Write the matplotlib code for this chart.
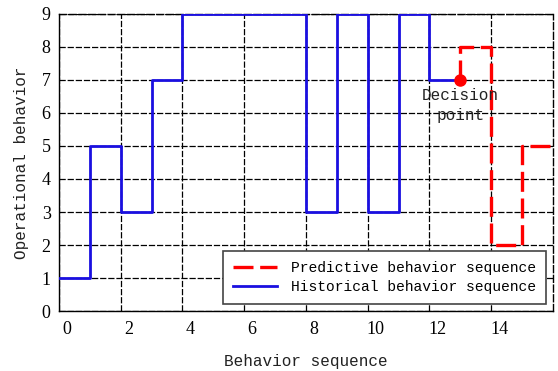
import numpy as np
import matplotlib.pyplot as plt
import matplotlib.transforms as mtransforms

# historical behaviour (step, post)
hist_x = [0, 1, 2, 3, 4, 8, 9, 10, 11, 12, 13]
hist_y = [1, 5, 3, 7, 9, 3, 9, 3, 9, 7, 7]
# predicted behaviour after the decision point
pred_x = [13, 13, 14, 15, 16]
pred_y = [7, 8, 2, 5, 5]
decision = (13, 7)

xticks = [0, 2, 4, 6, 8, 10, 12, 14]
yticks = list(range(10))

mono = 'Liberation Mono'
serif = 'Liberation Serif'

fig = plt.figure(figsize=(5.58, 3.71), dpi=100)
ax = fig.add_axes([0.1057, 0.1617, 0.8853, 0.8006])

ax.plot(pred_x, pred_y, color='red', linewidth=2.4, drawstyle='steps-post',
        dashes=(6, 2), label='Predictive behavior sequence', zorder=3)
ax.plot(hist_x, hist_y, color='#1a0fe0', linewidth=2.0, drawstyle='steps-post',
        label='Historical behavior sequence', zorder=3)
ax.plot(*decision, 'o', color='red', markersize=8, zorder=4)
ax.text(decision[0], decision[1] - 0.25, 'Decision\npoint', family=mono, fontsize=11.5,
        ha='center', va='top', color='#222222', linespacing=1.4)

ax.set_xlim(0, 16)
ax.set_ylim(0, 9)
ax.set_xticks(xticks)
ax.set_yticks(yticks)
ax.grid(True, color='black', linestyle=(0, (5, 1.5)), linewidth=0.9)
ax.set_axisbelow(True)
ax.tick_params(length=0, labelsize=13)
ax.tick_params(axis='x', pad=7)
ax.tick_params(axis='y', pad=6)
for lab in ax.get_xticklabels() + ax.get_yticklabels():
    lab.set_family(serif)
offset = mtransforms.ScaledTranslation(8 / 100, 0, fig.dpi_scale_trans)
for lab in ax.get_xticklabels():
    lab.set_transform(lab.get_transform() + offset)

for s in ['top', 'right']:
    ax.spines[s].set_linestyle((0, (5, 2)))
for s in ax.spines.values():
    s.set_linewidth(1.0)

ax.set_xlabel('Behavior sequence', family=mono, fontsize=11.5, labelpad=12, color='#222222')
ax.set_ylabel('Operational behavior', family=mono, fontsize=11.5, labelpad=9, color='#222222')

leg = ax.legend(loc='lower right', prop={'family': mono, 'size': 10.5}, fancybox=False,
                edgecolor='#444444', framealpha=1, handlelength=3.0, handletextpad=1.0,
                borderaxespad=0.45, borderpad=0.7, labelspacing=0.35)
leg.get_frame().set_linewidth(1.2)

plt.savefig('out.png', dpi=100)
